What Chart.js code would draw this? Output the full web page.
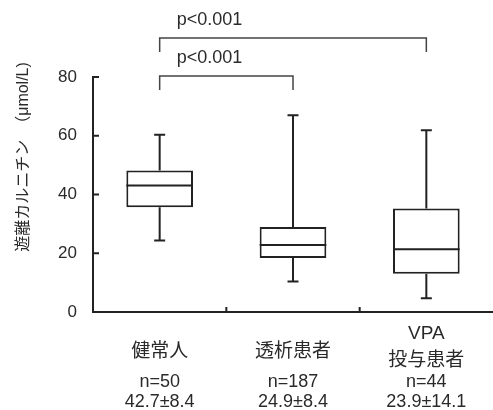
<!DOCTYPE html>
<html>
<head>
<meta charset="utf-8">
<script src="https://cdn.jsdelivr.net/npm/chart.js@4.4.1/dist/chart.umd.min.js"></script>
<style>
html, body { margin: 0; padding: 0; background: #fff; }
#wrap { width: 493px; height: 410px; position: relative; }
</style>
</head>
<body>
<div id="wrap"><canvas id="myBox"></canvas></div>
<script>
// groups and the text printed under each box
var groups = [['健常人'], ['透析患者'], ['VPA', '投与患者']];
var nLabels = ['n=50', 'n=187', 'n=44'];
var meanLabels = ['42.7±8.4', '24.9±8.4', '23.9±14.1'];

// box plot values
var whiskerLow = [24.3, 10.4, 4.7];
var q1 = [35.7, 18.4, 13.0];
var median = [43.1, 22.8, 21.4];
var q3 = [48.2, 28.9, 35.2];
var whiskerHigh = [60.3, 67.0, 61.9];

var yTicks = [0, 20, 40, 60, 80];
var yTitle = '遊離カルニチン　（μmol/L)';

// significance brackets, lowest first
var pPairs = [[0, 1], [0, 2]];
var pLabels = ['p<0.001', 'p<0.001'];

var INK = '#222';
var TXT = '#2a2a2a';
var LATIN = "'Liberation Sans', Arial, 'Noto Sans CJK JP', sans-serif";

var boxPlot = {
    id: 'boxPlot',
    afterDatasetsDraw: function (chart) {
        var ctx = chart.ctx;
        var y = chart.scales.y;
        var bars = chart.getDatasetMeta(0).data;
        ctx.save();
        ctx.strokeStyle = INK;
        ctx.lineWidth = 2;
        bars.forEach(function (bar, i) {
            var half = bar.width / 2;
            var cap = 5.5;
            ctx.beginPath();
            // median
            ctx.moveTo(bar.x - half, y.getPixelForValue(median[i]));
            ctx.lineTo(bar.x + half, y.getPixelForValue(median[i]));
            // whiskers
            ctx.moveTo(bar.x, y.getPixelForValue(q3[i]));
            ctx.lineTo(bar.x, y.getPixelForValue(whiskerHigh[i]));
            ctx.moveTo(bar.x, y.getPixelForValue(q1[i]));
            ctx.lineTo(bar.x, y.getPixelForValue(whiskerLow[i]));
            // caps
            ctx.moveTo(bar.x - cap, y.getPixelForValue(whiskerHigh[i]));
            ctx.lineTo(bar.x + cap, y.getPixelForValue(whiskerHigh[i]));
            ctx.moveTo(bar.x - cap, y.getPixelForValue(whiskerLow[i]));
            ctx.lineTo(bar.x + cap, y.getPixelForValue(whiskerLow[i]));
            ctx.stroke();
        });
        ctx.restore();
    },
    afterDraw: function (chart) {
        var ctx = chart.ctx;
        var x = chart.scales.x;
        var y = chart.scales.y;
        var area = chart.chartArea;
        ctx.save();

        // inward tick marks
        ctx.strokeStyle = INK;
        ctx.lineWidth = 2;
        ctx.beginPath();
        yTicks.forEach(function (v) {
            var py = y.getPixelForValue(v);
            ctx.moveTo(area.left, py);
            ctx.lineTo(area.left + 6, py);
        });
        for (var k = 1; k < groups.length; k++) {
            var px = (x.getPixelForValue(k - 1) + x.getPixelForValue(k)) / 2;
            ctx.moveTo(px, area.bottom);
            ctx.lineTo(px, area.bottom - 5);
        }
        ctx.stroke();

        // significance brackets
        var top = y.getPixelForValue(80);
        ctx.lineWidth = 1.5;
        ctx.strokeStyle = '#444';
        ctx.fillStyle = TXT;
        ctx.font = '18px ' + LATIN;
        ctx.textAlign = 'left';
        ctx.textBaseline = 'middle';
        pPairs.forEach(function (pair, lvl) {
            var by = top - 1 - lvl * 38;
            var x0 = x.getPixelForValue(pair[0]);
            var x1 = x.getPixelForValue(pair[1]);
            ctx.beginPath();
            ctx.moveTo(x0, by + 14);
            ctx.lineTo(x0, by);
            ctx.lineTo(x1, by);
            ctx.lineTo(x1, by + 14);
            ctx.stroke();
            ctx.fillText(pLabels[lvl], x0 + 17, by - 18);
        });

        // category labels with n and mean±SD
        ctx.textAlign = 'center';
        groups.forEach(function (g, i) {
            var cx = x.getPixelForValue(i);
            ctx.font = '19px ' + LATIN;
            if (g.length === 1) {
                ctx.fillText(g[0], cx, 352);
            } else {
                ctx.fillText(g[0], cx, 334);
                ctx.fillText(g[1], cx, 361);
            }
            ctx.font = '18px ' + LATIN;
            ctx.fillText(nLabels[i], cx, 382);
            ctx.fillText(meanLabels[i], cx, 402);
        });

        // y axis title
        ctx.translate(24, 157);
        ctx.rotate(-Math.PI / 2);
        ctx.font = '16px ' + LATIN;
        ctx.fillText(yTitle, 0, 0);
        ctx.restore();
    }
};

var ctx = document.getElementById('myBox').getContext('2d');
var chart = new Chart(ctx, {
    type: 'bar',
    data: {
        labels: groups.map(function (g) { return g.join(''); }),
        datasets: [{
            data: q1.map(function (v, i) { return [v, q3[i]]; }),
            backgroundColor: '#fff',
            borderColor: INK,
            borderWidth: 2,
            borderSkipped: false,
            barPercentage: 0.5,
            categoryPercentage: 1
        }]
    },
    options: {
        responsive: true,
        maintainAspectRatio: false,
        animation: false,
        layout: { padding: { top: 77, right: -4, left: 0, bottom: 0 } },
        plugins: { legend: { display: false }, tooltip: { enabled: false } },
        scales: {
            x: {
                grid: { display: false, drawTicks: false },
                border: { display: true, color: INK, width: 2 },
                ticks: { display: false },
                afterFit: function (scale) { scale.height = 98; }
            },
            y: {
                min: 0,
                max: 80,
                grid: { display: false, drawTicks: false },
                border: { display: true, color: INK, width: 2 },
                ticks: {
                    stepSize: 20,
                    padding: 16,
                    color: TXT,
                    font: { size: 17, family: LATIN }
                },
                afterFit: function (scale) { scale.width = 93; }
            }
        }
    },
    plugins: [boxPlot]
});
</script>
</body>
</html>
